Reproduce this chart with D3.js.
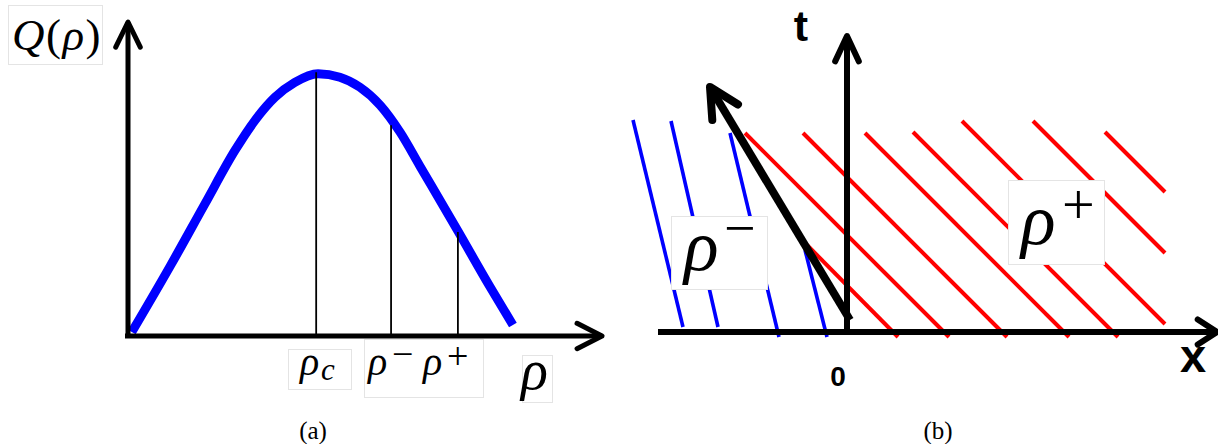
<!DOCTYPE html>
<html><head><meta charset="utf-8">
<script src="https://cdn.jsdelivr.net/npm/d3@7"></script>
<style>body{margin:0;background:#fff} svg{display:block}</style>
</head><body>
<svg id="fig" width="1218" height="444"></svg>
<script>
// ---- Panel (a): flux function Q(rho) ----
const rho  = [0.008, 0.089, 0.162, 0.226, 0.268, 0.310, 0.352, 0.401, 0.447, 0.489, 0.532, 0.574, 0.616, 0.696, 0.764, 0.812];
const flux = [0.015, 0.267, 0.504, 0.710, 0.824, 0.912, 0.969, 1.002, 0.989, 0.951, 0.882, 0.779, 0.649, 0.401, 0.187, 0.042];
const markerRho  = [0.397, 0.555, 0.696];   // rho_c, rho^-, rho^+
const markerFlux = [1.008, 0.805, 0.397];

// ---- Panel (b): characteristics in the (x, t) plane, [x0, t0, x1, t1] ----
const leftChars = [
  [-2.14, 2.12, -1.64, 0.05],
  [-1.76, 2.11, -1.29, 0.05],
  [-1.17, 1.99, -0.68, -0.05],
  [-0.42, 0.82, -0.20, -0.05]
];
const rightChars = [
  [-0.40, 0.87, 0.51, -0.05],
  [-1.02, 1.99, 1.02, -0.05],
  [-0.44, 1.99, 1.60, -0.05],
  [ 0.18, 1.99, 2.22, -0.05],
  [ 0.66, 2.00, 2.71, -0.05],
  [ 1.15, 2.11, 3.18, 0.08],
  [ 1.86, 2.11, 3.18, 0.79],
  [ 2.58, 2.00, 3.18, 1.40]
];
const shockPath = [0.03, 0.12, -1.37, 2.45];
const xAxisB = [-1.89, 3.70];
const tAxisB = [0.0, 2.96];

const svg = d3.select("#fig");
const serif = "'Liberation Serif', 'DejaVu Serif', serif";
const sans = "'Liberation Sans', Arial, sans-serif";

// open chevron arrowhead at a tip, pointing along (dx, dy)
function chevron(g, tip, dir, len, angDeg, width) {
  const n = Math.hypot(dir[0], dir[1]);
  const bx = -dir[0] / n, by = -dir[1] / n;
  const a = angDeg * Math.PI / 180;
  const rot = s => [bx * Math.cos(s * a) - by * Math.sin(s * a), bx * Math.sin(s * a) + by * Math.cos(s * a)];
  const w1 = rot(1), w2 = rot(-1);
  g.append("path")
    .attr("d", `M${tip[0] + w1[0] * len},${tip[1] + w1[1] * len}L${tip[0]},${tip[1]}L${tip[0] + w2[0] * len},${tip[1] + w2[1] * len}`)
    .attr("fill", "none").attr("stroke", "#000").attr("stroke-width", width)
    .attr("stroke-linecap", "round").attr("stroke-linejoin", "round");
}

function labelBox(g, x, y, w, h) {
  g.append("rect").attr("x", x).attr("y", y).attr("width", w).attr("height", h)
    .attr("fill", "#fff").attr("stroke", "#e4e4e4").attr("stroke-width", 1);
}

function txt(g, x, y, s, size, opts = {}) {
  return g.append("text").attr("x", x).attr("y", y).text(s)
    .attr("font-family", opts.family || serif)
    .attr("font-size", size)
    .attr("font-style", opts.italic ? "italic" : "normal")
    .attr("font-weight", opts.bold ? "bold" : "normal")
    .attr("text-anchor", opts.anchor || "start")
    .attr("fill", "#000");
}

// ================= Panel (a) =================
const ga = svg.append("g");
const xA = d3.scaleLinear().domain([0, 1]).range([128, 602]);
const yA = d3.scaleLinear().domain([0, 1.2]).range([336, 22]);

// flux curve
ga.append("path")
  .datum(d3.zip(rho, flux))
  .attr("d", d3.line().x(d => xA(d[0])).y(d => yA(d[1])).curve(d3.curveMonotoneX))
  .attr("fill", "none").attr("stroke", "#0000ff").attr("stroke-width", 9);

// vertical markers at rho_c, rho^-, rho^+
ga.selectAll("line.marker").data(d3.zip(markerRho, markerFlux)).join("line")
  .attr("class", "marker")
  .attr("x1", d => xA(d[0])).attr("x2", d => xA(d[0]))
  .attr("y1", yA(0)).attr("y2", d => yA(d[1]))
  .attr("stroke", "#000").attr("stroke-width", 1.8);

// axes
ga.append("line").attr("x1", xA(0)).attr("x2", xA(0)).attr("y1", yA(0) + 2).attr("y2", yA(1.2))
  .attr("stroke", "#000").attr("stroke-width", 5);
ga.append("line").attr("x1", xA(0) - 3).attr("x2", xA(1)).attr("y1", yA(0)).attr("y2", yA(0))
  .attr("stroke", "#000").attr("stroke-width", 5);
chevron(ga, [xA(0), yA(1.2)], [0, -1], 28, 26, 5);
chevron(ga, [xA(1), yA(0)], [1, 0], 28, 27, 5);

// labels
labelBox(ga, 8.5, 5.5, 94, 59);
const q = txt(ga, 12, 50, "", 45).attr("letter-spacing", 1.5);
q.append("tspan").attr("font-style", "italic").text("Q");
q.append("tspan").text("(");
q.append("tspan").attr("font-style", "italic").text("ρ");
q.append("tspan").text(")");

labelBox(ga, 288.5, 349.5, 63, 40);
txt(ga, 300, 375, "ρ", 40, {italic: true});
txt(ga, 321, 380, "c", 31, {italic: true});

labelBox(ga, 364.5, 339.5, 119, 58);
txt(ga, 368, 375, "ρ", 40, {italic: true});
txt(ga, 392, 367, "−", 38);
txt(ga, 423, 375, "ρ", 40, {italic: true});
txt(ga, 447, 369, "+", 38);

labelBox(ga, 522.5, 355.5, 30, 47);
txt(ga, 521, 389, "ρ", 56, {italic: true});

txt(ga, 313, 439, "(a)", 25, {anchor: "middle"});

// ================= Panel (b) =================
const gb = svg.append("g");
const xB = d3.scaleLinear().domain([-2, 4]).range([647, 1247]);
const tB = d3.scaleLinear().domain([0, 3]).range([332, 32]);

gb.selectAll("line.left").data(leftChars).join("line")
  .attr("class", "left")
  .attr("x1", d => xB(d[0])).attr("y1", d => tB(d[1]))
  .attr("x2", d => xB(d[2])).attr("y2", d => tB(d[3]))
  .attr("stroke", "#0000ff").attr("stroke-width", 3.6);

gb.selectAll("line.right").data(rightChars).join("line")
  .attr("class", "right")
  .attr("x1", d => xB(d[0])).attr("y1", d => tB(d[1]))
  .attr("x2", d => xB(d[2])).attr("y2", d => tB(d[3]))
  .attr("stroke", "#ff0000").attr("stroke-width", 4);

// label boxes sit over the characteristics
labelBox(gb, 671.5, 216.5, 96, 73);
txt(gb, 684, 270, "ρ", 72, {italic: true});
txt(gb, 724, 247, "−", 56);
labelBox(gb, 1008.5, 180.5, 96, 84);
txt(gb, 1021, 244, "ρ", 72, {italic: true});
txt(gb, 1062, 224, "+", 58);

// axes
gb.append("line").attr("x1", xB(xAxisB[0])).attr("x2", xB(xAxisB[1])).attr("y1", tB(0)).attr("y2", tB(0))
  .attr("stroke", "#000").attr("stroke-width", 6);
gb.append("line").attr("x1", xB(0)).attr("x2", xB(0)).attr("y1", tB(tAxisB[0])).attr("y2", tB(tAxisB[1]))
  .attr("stroke", "#000").attr("stroke-width", 6);
chevron(gb, [xB(xAxisB[1]), tB(0)], [1, 0], 23, 33, 6);
chevron(gb, [xB(0), tB(tAxisB[1])], [0, -1], 28, 25, 6);

// shock trajectory
gb.append("line")
  .attr("x1", xB(shockPath[0])).attr("y1", tB(shockPath[1]))
  .attr("x2", xB(shockPath[2])).attr("y2", tB(shockPath[3]))
  .attr("stroke", "#000").attr("stroke-width", 8);
chevron(gb, [xB(shockPath[2]), tB(shockPath[3])],
  [xB(shockPath[2]) - xB(shockPath[0]), tB(shockPath[3]) - tB(shockPath[1])], 33, 27, 8);

txt(gb, 801, 41, "t", 43, {family: sans, bold: true, anchor: "middle"});
txt(gb, 1193, 372, "x", 47, {family: sans, bold: true, anchor: "middle"});
txt(gb, 838, 386, "0", 28, {family: sans, bold: true, anchor: "middle"});

txt(gb, 938, 439, "(b)", 25, {anchor: "middle"});
</script>
</body></html>
